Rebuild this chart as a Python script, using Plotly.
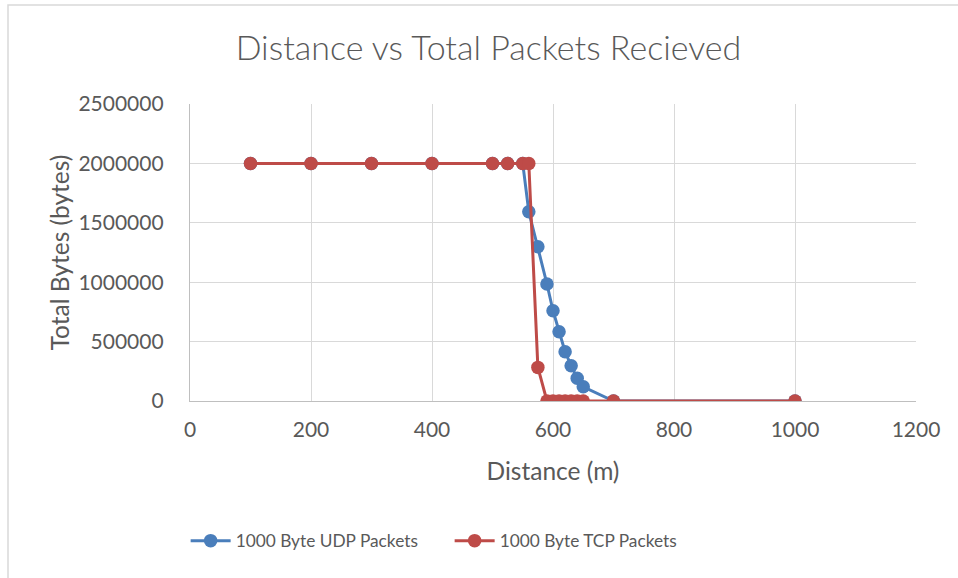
import plotly.graph_objects as go

# Distance (m) and total bytes received for each transport
udp_distance = [100, 200, 300, 400, 500, 525, 550, 560, 575, 590, 600, 610, 620, 630, 640, 650, 700, 1000]
udp_bytes = [2000000, 2000000, 2000000, 2000000, 2000000, 2000000, 2000000,
             1593000, 1299000, 985000, 760000, 583000, 415000, 297000, 191000, 120000, 0, 0]

tcp_distance = [100, 200, 300, 400, 500, 525, 550, 560, 575, 590, 600, 610, 620, 630, 640, 650, 700, 1000]
tcp_bytes = [2000000, 2000000, 2000000, 2000000, 2000000, 2000000, 2000000, 2000000,
             283000, 0, 0, 0, 0, 0, 0, 0, 0, 0]

x_ticks = [0, 200, 400, 600, 800, 1000, 1200]
y_ticks = [0, 500000, 1000000, 1500000, 2000000, 2500000]

FONT = "Lato"
TEXT = "#595959"
GRID = "#d9d9d9"

fig = go.Figure()
fig.add_trace(go.Scatter(
    x=udp_distance, y=udp_bytes, mode="lines+markers",
    name="1000 Byte UDP Packets",
    line=dict(color="#4a7ebb", width=3),
    marker=dict(color="#4a7ebb", size=13.5),
))
fig.add_trace(go.Scatter(
    x=tcp_distance, y=tcp_bytes, mode="lines+markers",
    name="1000 Byte TCP Packets",
    line=dict(color="#be4b48", width=3),
    marker=dict(color="#be4b48", size=13.5),
))

fig.update_layout(
    width=958, height=578,
    margin=dict(l=190, r=42, t=104, b=177),
    paper_bgcolor="white", plot_bgcolor="white",
    font=dict(family=FONT, color=TEXT, size=17),
    title=dict(text="Distance vs Total Packets Recieved", x=488.5 / 958, xref="container",
               xanchor="center", y=1 - 48 / 578, yref="container", yanchor="middle",
               font=dict(family=FONT, size=34, color=TEXT, weight=300)),
    showlegend=True,
    legend=dict(orientation="h", x=-0.006, xanchor="left", y=-0.471, yanchor="middle",
                font=dict(family=FONT, size=17.3, color=TEXT),
                itemwidth=40, entrywidthmode="pixels", entrywidth=209,
                bgcolor="rgba(0,0,0,0)"),
    shapes=[dict(type="rect", xref="paper", yref="paper",
                 x0=(8 - 190) / 726, x1=(970 - 190) / 726,
                 y0=(401 - 590) / 297, y1=(401 - 5) / 297,
                 line=dict(color="#d9d9d9", width=1.5), layer="below")],
)

fig.update_xaxes(
    range=[0, 1200], tickvals=x_ticks, ticktext=[str(v) for v in x_ticks],
    showgrid=True, gridcolor=GRID, gridwidth=1.3,
    showline=True, linecolor="#bfbfbf", linewidth=1.3, zeroline=False,
    ticks="", tickfont=dict(family=FONT, size=21, color=TEXT), ticklabelstandoff=10,
    title=dict(text="Distance (m)", font=dict(family=FONT, size=24.5, color=TEXT), standoff=22),
)
fig.update_yaxes(
    range=[0, 2500000], tickvals=y_ticks, ticktext=[str(v) for v in y_ticks],
    showgrid=True, gridcolor=GRID, gridwidth=1.3,
    showline=True, linecolor="#bfbfbf", linewidth=1.3, zeroline=False,
    ticks="", tickfont=dict(family=FONT, size=21, color=TEXT), ticklabelstandoff=21,
    title=dict(text="Total Bytes (bytes)", font=dict(family=FONT, size=24.5, color=TEXT), standoff=1),
)

fig.write_html("out.html")
